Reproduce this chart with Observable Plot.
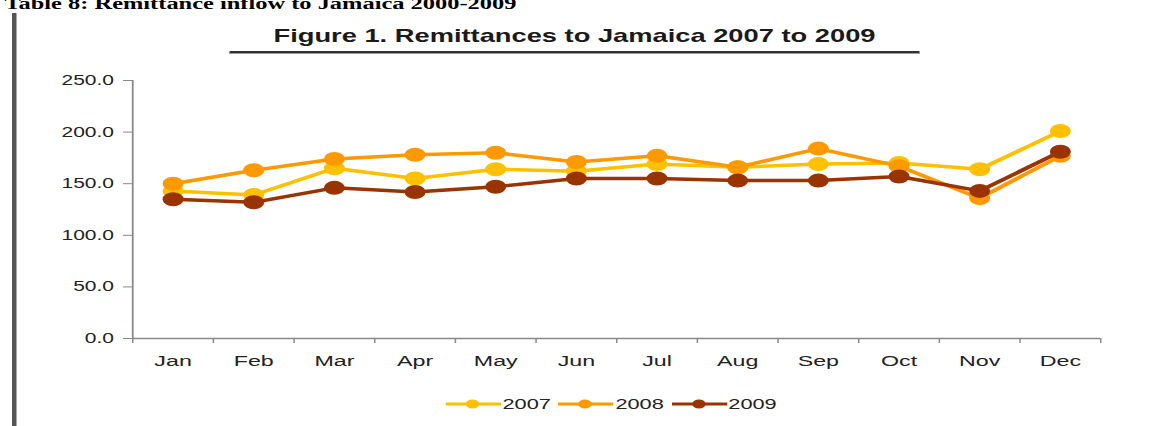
<!DOCTYPE html>
<html>
<head>
<meta charset="utf-8">
<script src="https://cdn.jsdelivr.net/npm/d3@7"></script>
<script src="https://cdn.jsdelivr.net/npm/@observablehq/plot@0.6"></script>
<style>
  html, body { margin: 0; padding: 0; background: #fff; }
  body { width: 1155px; height: 426px; overflow: hidden; position: relative; font-family: "Liberation Sans", Arial, sans-serif; }
  #page { position: absolute; left: 0; top: 0; width: 770px; height: 426px; transform: scaleX(1.5); transform-origin: 0 0; }
  #header { position: absolute; left: 3px; top: -4px; font-family: "Liberation Serif", "Times New Roman", serif; font-weight: bold; font-size: 16.3px; line-height: 16px; white-space: nowrap; color: #000; }
  #bar { position: absolute; left: 8px; top: 13px; width: 2.6px; height: 420px; background: #555; }
  #title { position: absolute; left: 153px; width: 460px; top: 26.8px; text-align: center; font-weight: bold; font-size: 18.2px; line-height: 18px; color: #1a1a1a; white-space: nowrap; }
  #rule { position: absolute; left: 153.3px; width: 460px; top: 51px; height: 2px; background: #333; border-bottom: 1px solid #999; }
  #chart { position: absolute; left: 0; top: 60px; }
  #legend { position: absolute; left: 297px; top: 396px; display: flex; align-items: center; font-size: 14.5px; color: #222; }
  #legend .item { display: flex; align-items: center; margin-right: 5px; }
  #legend svg { display: block; margin-right: 1px; }
</style>
</head>
<body>
<div id="page">
  <div id="header">Table 8: Remittance inflow to Jamaica 2000-2009</div>
  <div id="bar"></div>
  <div id="title">Figure 1. Remittances to Jamaica 2007 to 2009</div>
  <div id="rule"></div>
  <div id="chart"></div>
  <div id="legend"></div>
</div>
<script>
// ---- data ----
const months = ["Jan", "Feb", "Mar", "Apr", "May", "Jun", "Jul", "Aug", "Sep", "Oct", "Nov", "Dec"];
const years = ["2007", "2008", "2009"];
const v2007 = [143, 139, 165, 155, 164, 162, 169, 166, 169, 170, 164, 201];
const v2008 = [150, 163, 174, 178, 180, 171, 177, 166, 184, 167, 136, 177];
const v2009 = [135, 132, 146, 142, 147, 155, 155, 153, 153, 157, 143, 181];
const yTicks = [0, 50, 100, 150, 200, 250];

// ---- build table ----
const seriesValues = [v2007, v2008, v2009];
const rows = years.flatMap((yr, k) => seriesValues[k].map((v, i) => ({year: yr, i, month: months[i], value: v})));
const xDomain = [-0.5, months.length - 0.5];
const yDomain = [yTicks[0], yTicks[yTicks.length - 1]];
const palette = ["#FFC000", "#FF9900", "#993300"];

const seriesMarks = years.flatMap(yr => {
  const d = rows.filter(r => r.year === yr);
  return [
    Plot.line(d, {x: "i", y: "value", stroke: "year", strokeWidth: 3.5}),
    Plot.dot(d, {x: "i", y: "value", fill: "year", r: 7})
  ];
});

const chart = Plot.plot({
  width: 770,
  height: 320,
  marginLeft: 88,
  marginRight: 36.7,
  marginTop: 20,
  marginBottom: 42,
  style: {fontFamily: "'Liberation Sans', Arial, sans-serif", background: "transparent", overflow: "visible"},
  x: {type: "linear", domain: xDomain},
  y: {domain: yDomain},
  color: {domain: years, range: palette},
  marks: [
    Plot.axisY(yTicks, {tickFormat: d3.format(".1f"), tickSize: 6, tickPadding: 6.5, stroke: "#888", fill: "#222", fontSize: 14, label: null}),
    Plot.axisX(d3.range(months.length + 1).map(i => i - 0.5), {tickSize: 5, tickFormat: () => "", stroke: "#888", label: null}),
    Plot.axisX(d3.range(months.length), {tickFormat: i => months[i], tickSize: 0, tickPadding: 16, fontSize: 15.5, fill: "#222", label: null}),
    Plot.ruleY([yDomain[0]], {stroke: "#888", strokeWidth: 1.5}),
    Plot.ruleX([xDomain[0]], {y1: yDomain[0], y2: yDomain[1], stroke: "#888", strokeWidth: 1.2}),
    ...seriesMarks
  ]
});
document.getElementById("chart").appendChild(chart);

// ---- legend ----
const legend = d3.select("#legend");
years.forEach((yr, k) => {
  const item = legend.append("div").attr("class", "item");
  const svg = item.append("svg").attr("width", 37).attr("height", 16);
  svg.append("line").attr("x1", 0).attr("x2", 37).attr("y1", 8).attr("y2", 8)
     .attr("stroke", palette[k]).attr("stroke-width", 3);
  svg.append("circle").attr("cx", 18).attr("cy", 8).attr("r", 4.5).attr("fill", palette[k]);
  item.append("span").text(yr);
});
</script>
</body>
</html>
